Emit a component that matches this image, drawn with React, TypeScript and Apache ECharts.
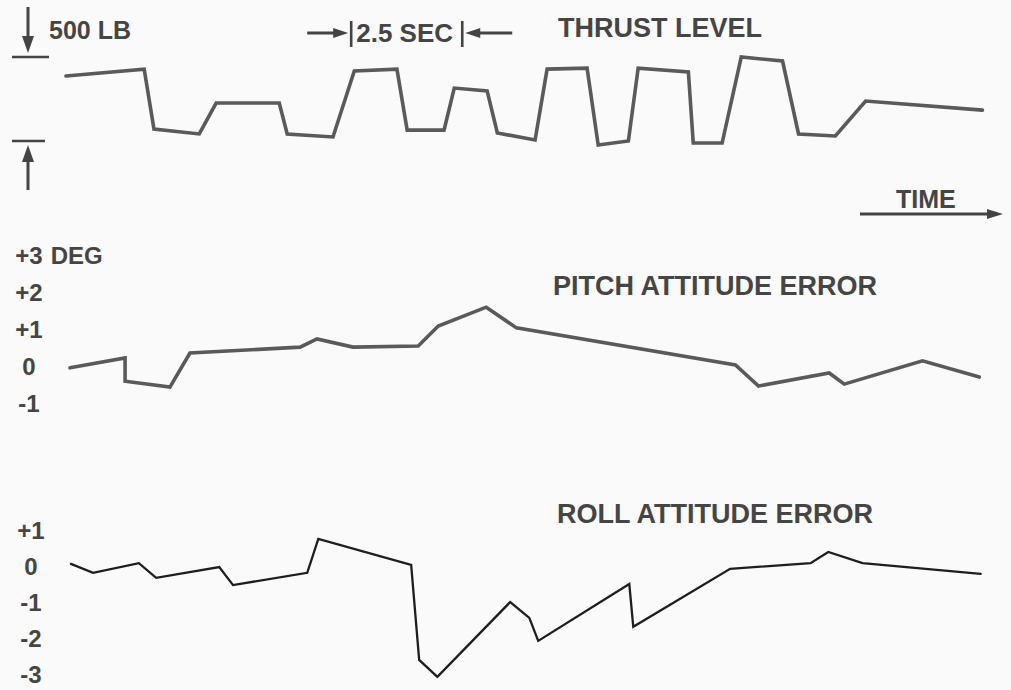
import React, { useEffect, useRef } from "react";
import * as echarts from "echarts";

// Time in seconds from the start of the trace
const thrustTime = [0, 1.76, 1.98, 3.0, 3.38, 4.8, 4.98, 6.01, 6.49, 7.45, 7.68, 8.51, 8.74, 9.48, 9.71, 10.56, 10.83, 11.73, 11.98, 12.66, 12.88, 14.01, 14.12, 14.77, 15.2, 16.13, 16.49, 17.32, 18.0, 20.63];
// Thrust level relative to the lower reference mark, in lb
const thrustLb = [387, 428, 71, 42, 226, 226, 42, 24, 417, 428, 65, 65, 315, 298, 48, 6, 428, 434, -24, 0, 434, 411, -12, -12, 500, 476, 42, 30, 238, 184];

const pitchTime = [0.09, 1.33, 1.33, 2.34, 2.79, 5.27, 5.65, 6.46, 7.93, 8.38, 9.46, 10.14, 15.07, 15.59, 17.18, 17.52, 19.28, 20.56];
const pitchDeg = [-0.05, 0.22, -0.41, -0.57, 0.35, 0.51, 0.73, 0.51, 0.54, 1.08, 1.59, 1.03, 0.03, -0.54, -0.19, -0.49, 0.14, -0.3];

const rollTime = [0.11, 0.61, 1.64, 2.03, 3.45, 3.76, 5.43, 5.68, 7.77, 7.95, 8.36, 10.0, 10.43, 10.63, 12.68, 12.77, 14.95, 16.76, 17.16, 17.93, 20.59];
const rollDeg = [0.06, -0.19, 0.08, -0.33, -0.03, -0.53, -0.19, 0.75, 0.03, -2.61, -3.08, -1.0, -1.44, -2.08, -0.5, -1.69, -0.08, 0.08, 0.39, 0.08, -0.22];

const pitchTicks = [-1, 0, 1, 2, 3];
const rollTicks = [-3, -2, -1, 0, 1];

const scaleLb = 500;
const scaleSec = 2.5;
const scaleStart = 6.42;

const FONT = "Liberation Sans, Arial, sans-serif";
const TEXT = "#454545";
const INK = "#444444";

function fmt(v: number) {
  return v > 0 ? `+${v}` : `${v}`;
}

export default function App() {
  const ref = useRef<HTMLDivElement>(null);
  useEffect(() => {
    const chart = echarts.init(ref.current!, null, { renderer: "svg" });
    const xMax = 20.8;
    const labelRich = {
      n: { width: 30, align: "center", fontSize: 24, fontWeight: "bold", fontFamily: FONT, color: TEXT },
      u: { fontSize: 24, fontWeight: "bold", fontFamily: FONT, color: TEXT },
    };
    const hiddenX = (gridIndex: number) => ({
      type: "value",
      gridIndex,
      min: 0,
      max: xMax,
      show: false,
    });
    chart.setOption({
      animation: false,
      backgroundColor: "#fafafa",
      grid: [
        { left: 66, width: 924, top: 15, height: 142.8 },
        { left: 66, width: 924, top: 255, height: 148 },
        { left: 66, width: 924, top: 530, height: 144 },
      ],
      xAxis: [hiddenX(0), hiddenX(1), hiddenX(2)],
      yAxis: [
        { type: "value", gridIndex: 0, min: -100, max: 750, show: false },
        {
          type: "value",
          gridIndex: 1,
          min: pitchTicks[0],
          max: pitchTicks[pitchTicks.length - 1],
          interval: 1,
          axisLine: { show: false },
          axisTick: { show: false },
          splitLine: { show: false },
          axisLabel: {
            align: "left",
            margin: 52,
            formatter: (v: number) =>
              v === 3 ? `{n|${fmt(v)}}{u| DEG}` : `{n|${fmt(v)}}`,
            rich: labelRich,
          },
        },
        {
          type: "value",
          gridIndex: 2,
          min: rollTicks[0],
          max: rollTicks[rollTicks.length - 1],
          interval: 1,
          axisLine: { show: false },
          axisTick: { show: false },
          splitLine: { show: false },
          axisLabel: {
            align: "left",
            margin: 50,
            formatter: (v: number) => `{n|${fmt(v)}}`,
            rich: labelRich,
          },
        },
      ],
      series: [
        {
          type: "line",
          xAxisIndex: 0,
          yAxisIndex: 0,
          data: thrustTime.map((t, i) => [t, thrustLb[i]]),
          showSymbol: false,
          symbol: "none",
          clip: false,
          lineStyle: { color: "#5a5a5a", width: 3.6, join: "miter", cap: "round" },
        },
        {
          type: "line",
          xAxisIndex: 1,
          yAxisIndex: 1,
          data: pitchTime.map((t, i) => [t, pitchDeg[i]]),
          showSymbol: false,
          symbol: "none",
          clip: false,
          lineStyle: { color: "#5a5a5a", width: 3.6, join: "miter", cap: "round" },
        },
        {
          type: "line",
          xAxisIndex: 2,
          yAxisIndex: 2,
          data: rollTime.map((t, i) => [t, rollDeg[i]]),
          showSymbol: false,
          symbol: "none",
          clip: false,
          lineStyle: { color: "#1e1e1e", width: 2.3, join: "miter", cap: "round" },
        },
      ],
    });

    const yHi = chart.convertToPixel({ yAxisIndex: 0 }, scaleLb) as number;
    const yLo = chart.convertToPixel({ yAxisIndex: 0 }, 0) as number;
    const x1 = chart.convertToPixel({ xAxisIndex: 0 }, scaleStart) as number;
    const x2 = chart.convertToPixel({ xAxisIndex: 0 }, scaleStart + scaleSec) as number;

    const ln = (a: number, b: number, c: number, d: number, w = 2.6) => ({
      type: "line",
      shape: { x1: a, y1: b, x2: c, y2: d },
      style: { stroke: INK, lineWidth: w },
    });
    const tri = (pts: number[][]) => ({
      type: "polygon",
      shape: { points: pts },
      style: { fill: INK },
    });
    const txt = (text: string, x: number, y: number, size: number) => ({
      type: "text",
      x,
      y,
      style: {
        text,
        fontSize: size,
        fontWeight: "bold",
        fontFamily: FONT,
        fill: TEXT,
        textAlign: "left",
        textVerticalAlign: "middle",
      },
    });

    chart.setOption({
      graphic: [
        // 500 LB scale
        ln(12, yHi, 49, yHi),
        ln(28, 7, 28, yHi - 18, 3),
        tri([[22, yHi - 21], [34, yHi - 21], [28, yHi - 4]]),
        ln(12, yLo, 45, yLo),
        tri([[28, yLo + 4], [22, yLo + 21], [34, yLo + 21]]),
        ln(28, yLo + 18, 28, yLo + 49, 3),
        txt("500 LB", 49, 30, 25),
        // 2.5 SEC scale
        ln(x1, 21, x1, 47),
        ln(x2, 21, x2, 47),
        ln(x1 - 44, 33, x1 - 14, 33, 3),
        tri([[x1 - 18, 28], [x1 - 18, 38], [x1 - 3, 33]]),
        ln(x2 + 14, 33, x2 + 50, 33, 3),
        tri([[x2 + 3, 33], [x2 + 18, 28], [x2 + 18, 38]]),
        txt("2.5 SEC", x1 + 5, 33, 26),
        // titles
        txt("THRUST LEVEL", 558, 28, 27),
        txt("PITCH ATTITUDE ERROR", 553, 286, 27),
        txt("ROLL ATTITUDE ERROR", 557, 514, 27),
        // time arrow
        txt("TIME", 896, 199, 25),
        ln(860, 214, 990, 214, 3),
        tri([[987, 209], [987, 219], [1003, 214]]),
      ],
    });

    return () => chart.dispose();
  }, []);
  return (
    <div
      ref={ref}
      style={{ position: "absolute", left: 0, top: 0, width: 1011, height: 690 }}
    />
  );
}
